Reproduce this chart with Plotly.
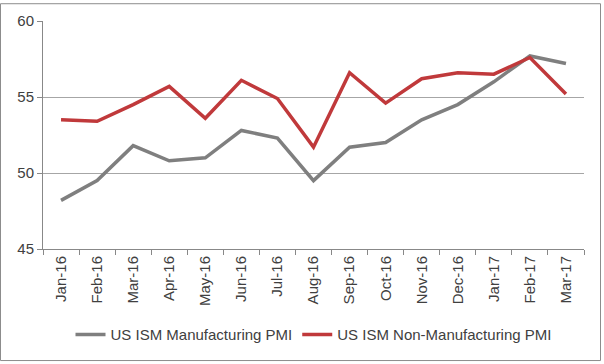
import plotly.graph_objects as go

months = ["Jan-16", "Feb-16", "Mar-16", "Apr-16", "May-16", "Jun-16", "Jul-16", "Aug-16",
          "Sep-16", "Oct-16", "Nov-16", "Dec-16", "Jan-17", "Feb-17", "Mar-17"]
manufacturing = [48.2, 49.5, 51.8, 50.8, 51.0, 52.8, 52.3, 49.5,
                 51.7, 52.0, 53.5, 54.5, 56.0, 57.7, 57.2]
non_manufacturing = [53.5, 53.4, 54.5, 55.7, 53.6, 56.1, 54.9, 51.7,
                     56.6, 54.6, 56.2, 56.6, 56.5, 57.6, 55.2]
y_ticks = [45, 50, 55, 60]

W, H = 604, 364
L, R, T, B = 43, 20, 18, 115
pw, ph = W - L - R, H - T - B

fig = go.Figure()
fig.add_trace(go.Scatter(x=months, y=manufacturing, mode="lines",
                         name="US ISM Manufacturing PMI",
                         line=dict(color="#7f7f7f", width=3.5)))
fig.add_trace(go.Scatter(x=months, y=non_manufacturing, mode="lines",
                         name="US ISM Non-Manufacturing PMI",
                         line=dict(color="#c0393b", width=3.5)))

font = dict(family="Liberation Sans, Arial, sans-serif", size=15, color="#404040")

fig.update_layout(
    width=W, height=H,
    margin=dict(l=L, r=R, t=T, b=B),
    paper_bgcolor="white", plot_bgcolor="white",
    font=font,
    showlegend=True,
    legend=dict(orientation="h", x=0.5, xanchor="center", y=-(336 - (H - B)) / ph,
                yanchor="middle", font=font, itemwidth=30, traceorder="normal"),
    xaxis=dict(type="category", range=[-0.5, 14.5], tickangle=-90,
               showline=True, linecolor="#888888", linewidth=1,
               ticks="outside", tickson="boundaries", ticklen=5, tickcolor="#888888",
               showgrid=False, tickfont=font),
    yaxis=dict(range=[45, 60], tickvals=y_ticks, showline=True, linecolor="#888888",
               linewidth=1, ticks="outside", ticklen=5, tickcolor="#888888",
               showgrid=True, gridcolor="#a6a6a6", gridwidth=1, zeroline=False,
               tickfont=font),
    shapes=[dict(type="rect", xref="paper", yref="paper",
                 x0=(0.5 - L) / pw, x1=(600.5 - L) / pw,
                 y0=(H - B - 362) / ph, y1=(H - B - 0.5) / ph,
                 line=dict(color="#8c8c8c", width=1), fillcolor="rgba(0,0,0,0)",
                 layer="below")],
)

fig.write_html("out.html", config={"displayModeBar": False},
               post_script="document.body.style.margin='0';document.body.style.overflow='hidden';")
